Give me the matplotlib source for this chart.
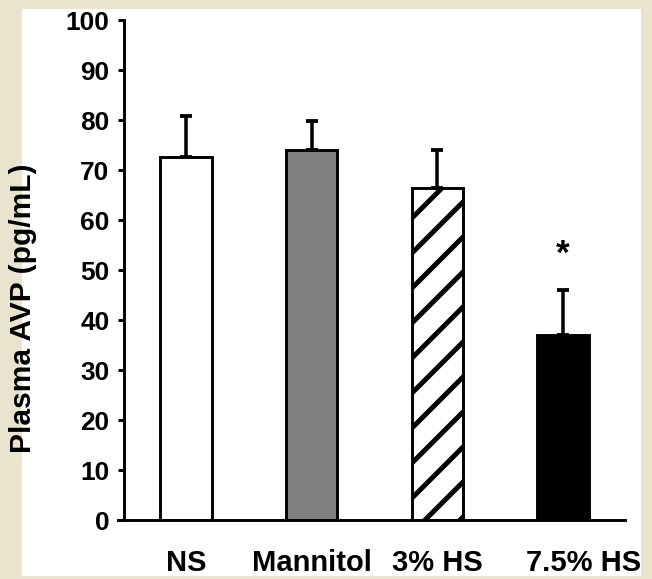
import numpy as np
import matplotlib.pyplot as plt
from matplotlib.patches import Rectangle
from matplotlib.transforms import ScaledTranslation

# Data
groups = ['NS', 'Mannitol', '3% HS', '7.5% HS']
avp_mean = [72.7, 74.1, 66.5, 37.0]
avp_sem = [8.2, 5.8, 7.5, 9.1]
bar_colors = ['white', '#808080', 'white', 'black']
bar_hatches = ['', '', '//', '']
y_ticks = [0, 10, 20, 30, 40, 50, 60, 70, 80, 90, 100]
star_group = 3
star_level = 53.1

DPI = 210
plt.rcParams['font.family'] = ['Liberation Sans', 'DejaVu Sans']
plt.rcParams['font.weight'] = 'bold'
plt.rcParams['hatch.linewidth'] = 1.7

fig = plt.figure(figsize=(652 / DPI, 579 / DPI), dpi=DPI, facecolor='#EAE3CE')
# white panel behind the chart
fig.patches.append(Rectangle((22 / 652, 3 / 579), 619 / 652, 567 / 579,
                             transform=fig.transFigure, facecolor='white',
                             edgecolor='none', zorder=-5))

ax = fig.add_axes([118 / 652, 59 / 579, 507 / 652, 500 / 579])
ax.set_zorder(2)
ax.set_facecolor('none')

x = np.arange(len(groups))
ax.bar(x, avp_mean, width=0.41, color=bar_colors, edgecolor='black',
       linewidth=1.0, hatch=bar_hatches, zorder=2)
ax.errorbar(x, avp_mean, yerr=[np.zeros(len(x)), avp_sem], fmt='none',
            ecolor='black', elinewidth=1.2, capsize=2.0, capthick=1.3, zorder=1)

ax.text(star_group, star_level, '*', ha='center', va='center',
        fontsize=12, fontweight='bold')

ax.set_xlim(-0.541, 3.492)
ax.set_ylim(0, 100)
ax.set_yticks(y_ticks)
ax.set_xticks(x)
ax.set_xticklabels(groups, fontsize=10, fontweight='bold')
ax.tick_params(axis='x', length=0, pad=10)
ax.tick_params(axis='y', direction='out', length=2, width=1, pad=3, labelsize=9)
for lab in ax.get_yticklabels():
    lab.set_fontweight('bold')

# the last group label sits a little right of its bar
last = ax.get_xticklabels()[-1]
last.set_transform(last.get_transform() + ScaledTranslation(20 / DPI, 0, fig.dpi_scale_trans))

ax.spines['top'].set_visible(False)
ax.spines['right'].set_visible(False)
ax.spines['left'].set_position(('data', -0.493))
ax.spines['left'].set_linewidth(1.0)
ax.spines['bottom'].set_linewidth(1.0)

ax.set_ylabel('Plasma AVP (pg/mL)', fontsize=10.3, fontweight='bold')
ax.yaxis.set_label_coords(-0.16, 0.423)

fig.savefig('out.png', dpi=DPI, facecolor=fig.get_facecolor())
